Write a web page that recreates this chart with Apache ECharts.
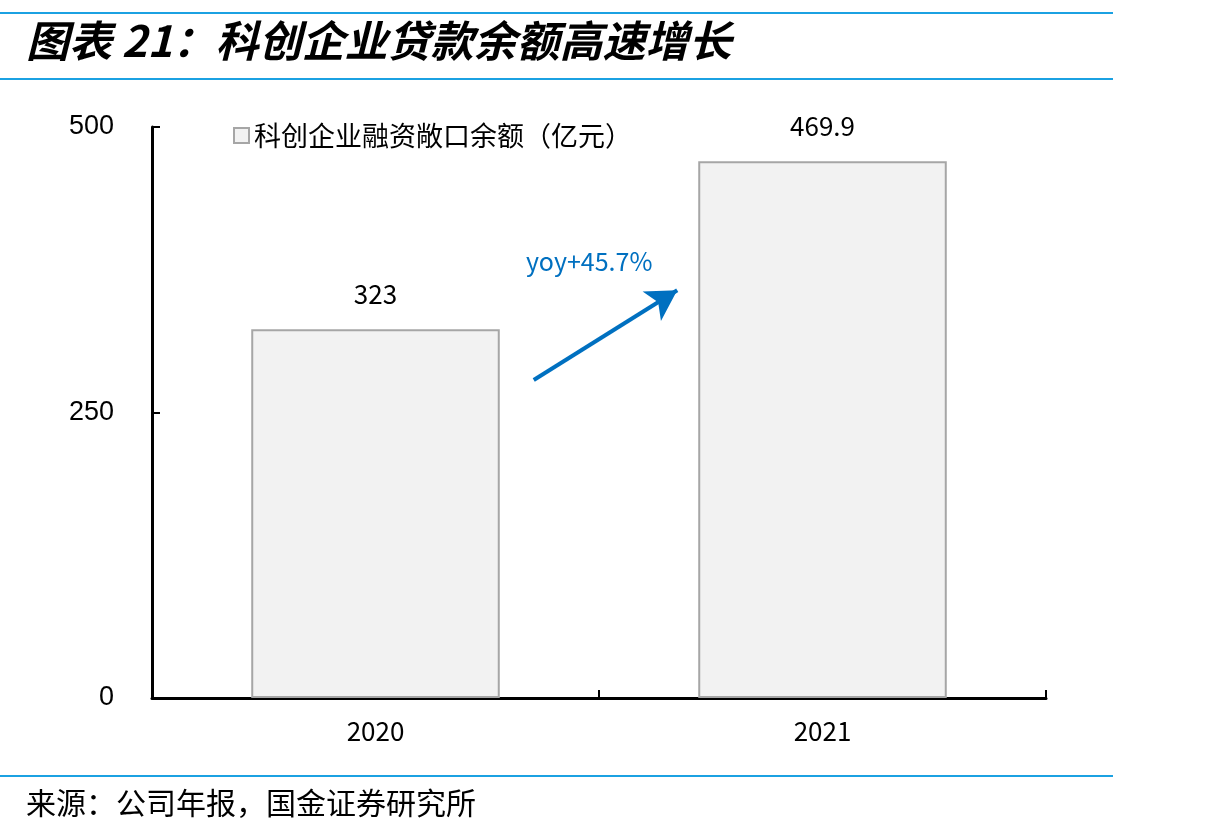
<!DOCTYPE html>
<html>
<head>
<meta charset="utf-8">
<script src="https://cdn.jsdelivr.net/npm/echarts@6/dist/echarts.min.js"></script>
<style>
html,body{margin:0;padding:0;background:#fff;}
#chart{width:1228px;height:840px;}
</style>
</head>
<body>
<div id="chart"></div>
<script>
const categories = ['2020', '2021'];
const balances = [323, 469.9];
const seriesName = '科创企业融资敞口余额（亿元）';
const yTicks = [0, 250, 500];
const arrowStart = [0.354, 278.5];
const arrowEnd = [0.675, 357];
const yoyText = 'yoy+45.7%';
const yoyPos = [0.478, 382];

const chart = echarts.init(document.getElementById('chart'));
const rule = (y) => ({type:'line', shape:{x1:0,y1:y,x2:1113,y2:y}, style:{stroke:'#1ba1e2', lineWidth:2}});
chart.setOption({
  backgroundColor:'#fff',
  animation:false,
  textStyle:{fontFamily:'Noto Sans CJK SC'},
  graphic:[
    rule(13), rule(79), rule(776),
    {type:'text', left:26, top:19, style:{text:'图表 21：科创企业贷款余额高速增长', font:'italic bold 43px "Noto Sans CJK SC"', fill:'#000'}},
    {type:'text', left:26, top:788, style:{text:'来源：公司年报，国金证券研究所', font:'30px "Noto Sans CJK SC"', fill:'#000'}}
  ],
  legend:{
    left:228, top:117, icon:'rect', itemWidth:15, itemHeight:15,
    textStyle:{fontSize:27, color:'#000', fontFamily:'Noto Sans CJK SC'},
    data:[seriesName]
  },
  grid:{left:152, right:182, top:127, bottom:142},
  xAxis:[{
    type:'category', data:categories,
    axisLine:{lineStyle:{color:'#000', width:3}},
    axisTick:{show:true, inside:true, length:8, lineStyle:{color:'#000', width:2}},
    axisLabel:{fontSize:26, color:'#000', margin:20, fontFamily:'Noto Sans CJK SC'}
  },{
    type:'value', min:-0.5, max:1.5, show:false
  }],
  yAxis:{
    type:'value', min:yTicks[0], max:yTicks[yTicks.length-1], interval:yTicks[1]-yTicks[0],
    axisLine:{show:true, onZero:false, lineStyle:{color:'#000', width:3}},
    axisTick:{show:true, inside:true, length:8, lineStyle:{color:'#000', width:2}},
    splitLine:{show:false},
    axisLabel:{fontSize:27, color:'#000', margin:38, fontFamily:'Liberation Sans'}
  },
  series:[{
    name:seriesName, type:'bar', data:balances, barWidth:'55.6%',
    itemStyle:{color:'#f2f2f2', borderColor:'#a6a6a6', borderWidth:2},
    label:{show:true, position:'top', distance:22, fontSize:26, color:'#000', fontFamily:'Noto Sans CJK SC'}
  },{
    name:'arrow', type:'line', xAxisIndex:1, data:[], symbol:'none',
    markLine:{
      silent:true, symbol:['none','arrow'], symbolSize:[26,30],
      lineStyle:{color:'#0070c0', width:4, type:'solid'},
      label:{show:false},
      data:[[{coord:arrowStart},{coord:arrowEnd}]]
    },
    markPoint:{
      silent:true, symbol:'circle', symbolSize:0,
      label:{show:true, formatter:yoyText, color:'#0070c0', fontSize:25, fontFamily:'Noto Sans CJK SC'},
      data:[{coord:yoyPos}]
    }
  }]
});
</script>
</body>
</html>
